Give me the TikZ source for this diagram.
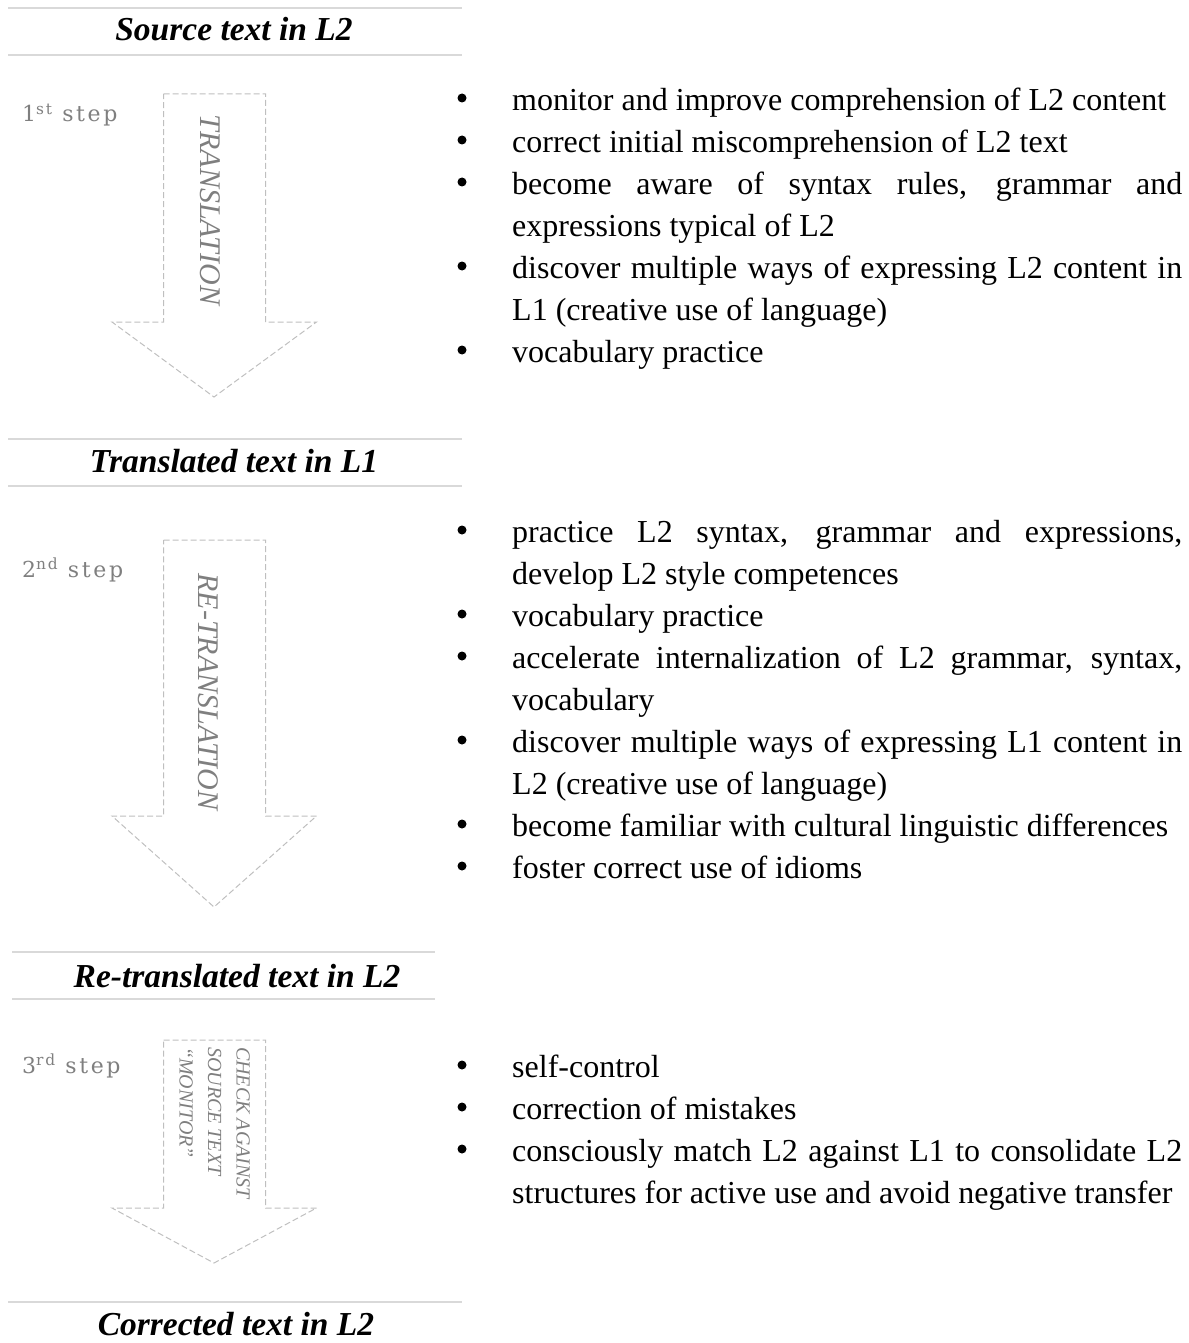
\documentclass[tikz,border=0pt]{standalone}
\usepackage{fontspec}
\setmainfont{Liberation Serif}
\newfontfamily\bodyfont{Liberation Serif}
\newfontfamily\headfont{Liberation Serif}
\newfontfamily\stepfont[LetterSpace=12]{DejaVu Serif}
\definecolor{labgray}{HTML}{7F7F7F}
\definecolor{arrgray}{HTML}{BFBFBF}
\definecolor{linegray}{HTML}{D9D9D9}
\newcommand\bultext[1]{\parbox[t]{670pt}{\bodyfont\fontsize{32}{42}\selectfont\tolerance=10000\hbadness=10000\strut #1}}
\begin{document}
\begin{tikzpicture}[x=1pt,y=-1pt,
  hline/.style={draw=linegray, line width=1.6pt},
  head/.style={font=\headfont\fontsize{33.5}{40}\selectfont\bfseries\itshape, anchor=base, inner sep=0pt},
  steplabel/.style={font=\stepfont\fontsize{22}{26}\selectfont, text=labgray, anchor=base west, inner sep=0pt},
  arrowshape/.style={draw=arrgray, dash pattern=on 6pt off 3pt, line width=1pt},
  arrlabel/.style={font=\headfont\fontsize{30}{36}\selectfont\itshape, text=labgray, rotate=-90, inner sep=0pt},
  bul/.style={circle, fill=black, inner sep=0pt, minimum size=9pt},
  itembox/.style={anchor=north west, inner sep=0pt}]
\useasboundingbox (0,0) rectangle (1188,1343);

% headers
\draw[hline] (8,8) -- (462,8);
\draw[hline] (8,55) -- (462,55);
\node[head] (h1) at (234,41) {Source text in L2};
\draw[hline] (8,439) -- (462,439);
\draw[hline] (8,486) -- (462,486);
\node[head] (h2) at (234,472) {Translated text in L1};
\draw[hline] (12,952) -- (435,952);
\draw[hline] (12,999) -- (435,999);
\node[head] (h3) at (237,987) {Re-translated text in L2};
\draw[hline] (8,1302) -- (462,1302);
\node[head] (h4) at (236,1335) {Corrected text in L2};

% arrows
\draw[arrowshape] (163.5,94) -- (265.5,94) -- (265.5,322) -- (316.5,322) -- (214,397) -- (112,322) -- (163.5,322) -- cycle;
\draw[arrowshape] (163.5,540) -- (265.5,540) -- (265.5,816) -- (316.5,816) -- (214,907) -- (112,816) -- (163.5,816) -- cycle;
\draw[arrowshape] (163.5,1040) -- (265.5,1040) -- (265.5,1208) -- (316.5,1208) -- (214,1263) -- (112,1208) -- (163.5,1208) -- cycle;

\node[arrlabel] (l1) at (210,210) {TRANSLATION};
\node[arrlabel] (l2) at (208,692) {RE-TRANSLATION};
\node[arrlabel, font=\headfont\fontsize{20}{28.5}\selectfont\itshape, align=left, anchor=north west] (l3) at (250,1047) {CHECK AGAINST\\SOURCE TEXT\\“MONITOR”};

% step labels
\node[steplabel] (s1) at (22,122) {1\textsuperscript{st} step};
\node[steplabel] (s2) at (22,577) {2\textsuperscript{nd} step};
\node[steplabel] (s3) at (22,1073) {3\textsuperscript{rd} step};

% section 1
\node[bul] (b11) at (462,98) {};
\node[bul] (b12) at (462,140) {};
\node[bul] (b13) at (462,182) {};
\node[bul] (b14) at (462,266) {};
\node[bul] (b15) at (462,350) {};
\node[itembox] (t11) at (512,80.6) {\bultext{monitor and improve comprehension of L2 content}};
\node[itembox] (t12) at (512,122.6) {\bultext{correct initial miscomprehension of L2 text}};
\node[itembox] (t13) at (512,164.6) {\bultext{become aware of syntax rules, grammar and\linebreak expressions typical of L2}};
\node[itembox] (t14) at (512,248.6) {\bultext{discover multiple ways of expressing L2 content in\linebreak L1 (creative use of language)}};
\node[itembox] (t15) at (512,332.6) {\bultext{vocabulary practice}};

% section 2
\node[bul] (b21) at (462,530) {};
\node[bul] (b22) at (462,614) {};
\node[bul] (b23) at (462,656) {};
\node[bul] (b24) at (462,740) {};
\node[bul] (b25) at (462,824) {};
\node[bul] (b26) at (462,866) {};
\node[itembox] (t21) at (512,512.6) {\bultext{practice L2 syntax, grammar and expressions,\linebreak develop L2 style competences}};
\node[itembox] (t22) at (512,596.6) {\bultext{vocabulary practice}};
\node[itembox] (t23) at (512,638.6) {\bultext{accelerate internalization of L2 grammar, syntax,\linebreak vocabulary}};
\node[itembox] (t24) at (512,722.6) {\bultext{discover multiple ways of expressing L1 content in\linebreak L2 (creative use of language)}};
\node[itembox] (t25) at (512,806.6) {\bultext{become familiar with cultural linguistic differences}};
\node[itembox] (t26) at (512,848.6) {\bultext{foster correct use of idioms}};

% section 3
\node[bul] (b31) at (462,1065) {};
\node[bul] (b32) at (462,1107) {};
\node[bul] (b33) at (462,1149) {};
\node[itembox] (t31) at (512,1047.6) {\bultext{self-control}};
\node[itembox] (t32) at (512,1089.6) {\bultext{correction of mistakes}};
\node[itembox] (t33) at (512,1131.6) {\bultext{consciously match L2 against L1 to consolidate L2\linebreak structures for active use and avoid negative transfer}};
\end{tikzpicture}
\end{document}
